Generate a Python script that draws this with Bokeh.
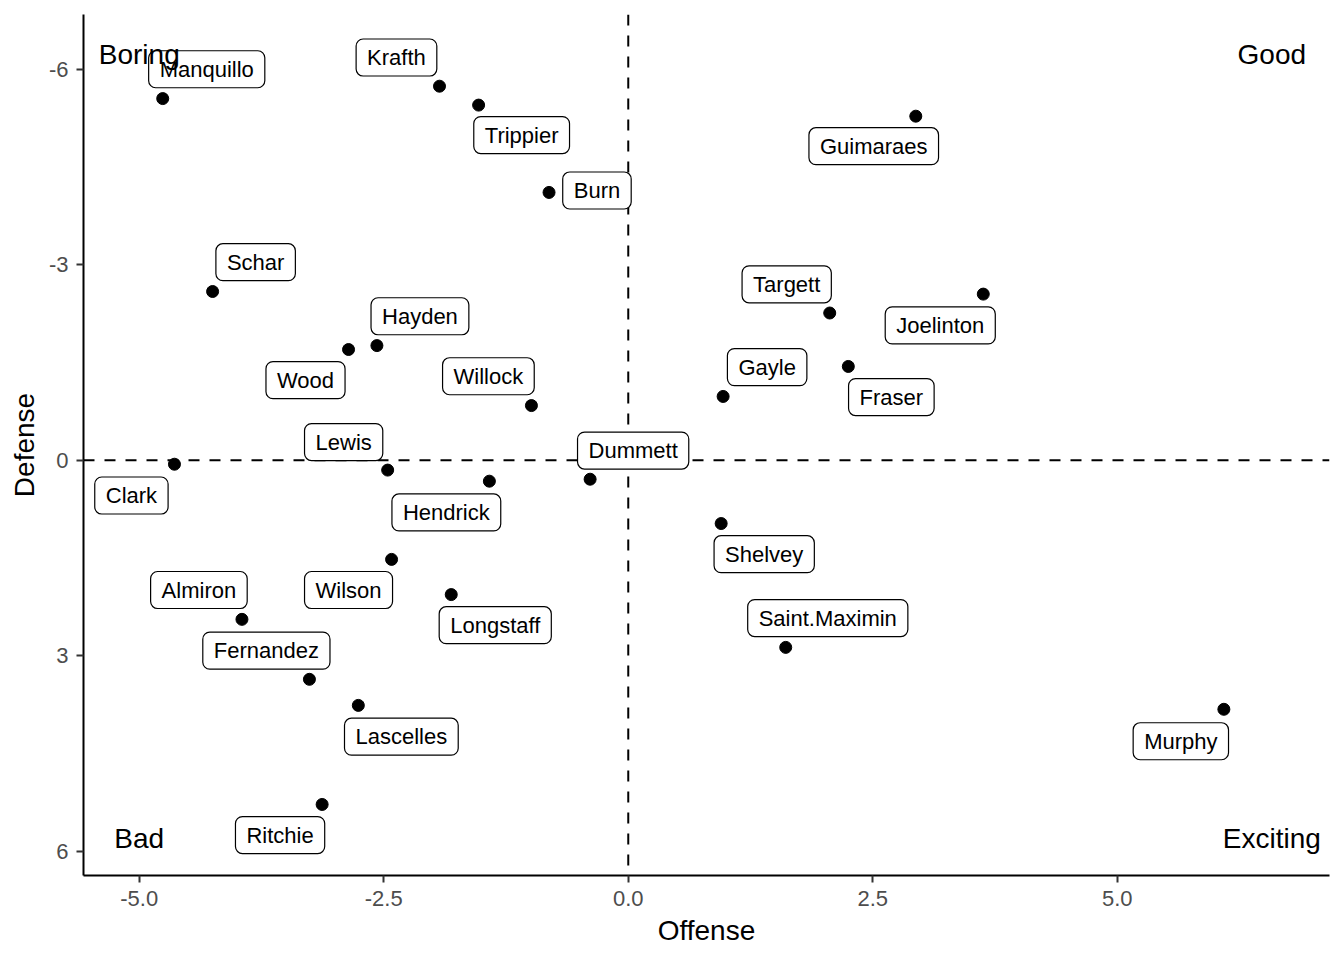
from bokeh.plotting import figure
from bokeh.models import Range1d, FixedTicker, ColumnDataSource, Span
from bokeh.core.properties import value
from bokeh.embed import file_html
from bokeh.resources import INLINE

players = ["Manquillo", "Krafth", "Trippier", "Burn", "Guimaraes", "Schar", "Hayden",
           "Wood", "Willock", "Targett", "Joelinton", "Fraser", "Gayle", "Lewis", "Clark",
           "Hendrick", "Dummett", "Shelvey", "Wilson", "Longstaff", "Almiron", "Fernandez",
           "Lascelles", "Saint.Maximin", "Murphy", "Ritchie"]
offense = [-4.76, -1.93, -1.53, -0.81, 2.94, -4.25, -2.57, -2.86, -0.99, 2.06, 3.63, 2.25,
           0.97, -2.46, -4.64, -1.42, -0.39, 0.95, -2.42, -1.81, -3.95, -3.26, -2.76, 1.61,
           6.09, -3.13]
defense = [-5.55, -5.74, -5.45, -4.11, -5.28, -2.59, -1.76, -1.70, -0.84, -2.26, -2.55, -1.44,
           -0.98, 0.15, 0.06, 0.32, 0.29, 0.97, 1.52, 2.06, 2.44, 3.36, 3.76, 2.87, 3.82, 5.28]
# repelled label positions (data units)
label_x = [-4.31, -2.37, -1.09, -0.32, 2.51, -3.81, -2.13, -3.30, -1.43, 1.62, 3.19, 2.69,
           1.42, -2.91, -5.08, -1.86, 0.05, 1.39, -2.86, -1.36, -4.39, -3.70, -2.32, 2.04,
           5.65, -3.56]
label_y = [-6.00, -6.18, -4.99, -4.14, -4.82, -3.04, -2.21, -1.23, -1.29, -2.70, -2.07, -0.97,
           -1.43, -0.28, 0.54, 0.80, -0.15, 1.44, 1.99, 2.53, 1.99, 2.92, 4.24, 2.42, 4.31, 5.75]

quadrant_labels = ["Boring", "Good", "Bad", "Exciting"]
quadrant_x = [-5.0, 6.58, -5.0, 6.58]
quadrant_y = [-6.22, -6.22, 5.8, 5.8]

x_ticks = [-5.0, -2.5, 0.0, 2.5, 5.0]
x_tick_labels = ["-5.0", "-2.5", "0.0", "2.5", "5.0"]
y_ticks = [-6, -3, 0, 3, 6]
y_tick_labels = ["-6", "-3", "0", "3", "6"]

FONT = "Liberation Sans"

p = figure(width=1336, height=952, output_backend="svg", toolbar_location=None,
           x_range=Range1d(-5.57, 7.17), y_range=Range1d(6.37, -6.84),
           min_border_left=83, min_border_right=7, min_border_top=14, min_border_bottom=77)
p.xgrid.visible = False
p.ygrid.visible = False
p.outline_line_color = None
p.background_fill_color = "white"
p.border_fill_color = "white"

for ax, ticks, labels in ((p.xaxis[0], x_ticks, x_tick_labels), (p.yaxis[0], y_ticks, y_tick_labels)):
    ax.ticker = FixedTicker(ticks=ticks)
    ax.major_label_overrides = {t: l for t, l in zip(ticks, labels)}
    ax.minor_tick_line_color = None
    ax.major_tick_in = 0
    ax.major_tick_out = 7
    ax.major_tick_line_width = 2
    ax.major_tick_line_color = "#333333"
    ax.axis_line_width = 2
    ax.axis_line_color = "black"
    ax.major_label_text_font = FONT
    ax.major_label_text_font_size = "22px"
    ax.major_label_text_color = "#4D4D4D"
    ax.major_label_standoff = 8
    ax.axis_label_text_font = FONT
    ax.axis_label_text_font_size = "28px"
    ax.axis_label_text_font_style = "normal"
    ax.axis_label_text_color = "black"

p.xaxis.axis_label = "Offense"
p.yaxis.axis_label = "Defense"
p.xaxis.axis_label_standoff = 6
p.yaxis.axis_label_standoff = 6

p.add_layout(Span(location=0, dimension="height", line_color="black", line_width=2,
                  line_dash="11 10", level="underlay"))
p.add_layout(Span(location=0, dimension="width", line_color="black", line_width=2,
                  line_dash="11 10", level="underlay"))

src = ColumnDataSource(dict(x=offense, y=defense, lx=label_x, ly=label_y, name=players))
p.scatter("x", "y", source=src, size=12, color="black")

p.text("lx", "ly", text="name", source=src, text_font=value(FONT), text_font_size="22px",
       text_align="center", text_baseline="middle", text_color="black",
       background_fill_color="white", border_line_color="black", border_line_width=1.2,
       border_radius=7, padding=(11, 6))

qsrc = ColumnDataSource(dict(x=quadrant_x, y=quadrant_y, t=quadrant_labels))
p.text("x", "y", text="t", source=qsrc, text_font=value(FONT), text_font_size="28px",
       text_align="center", text_baseline="middle", text_color="black")

open("out.html", "w").write(file_html(p, INLINE))
